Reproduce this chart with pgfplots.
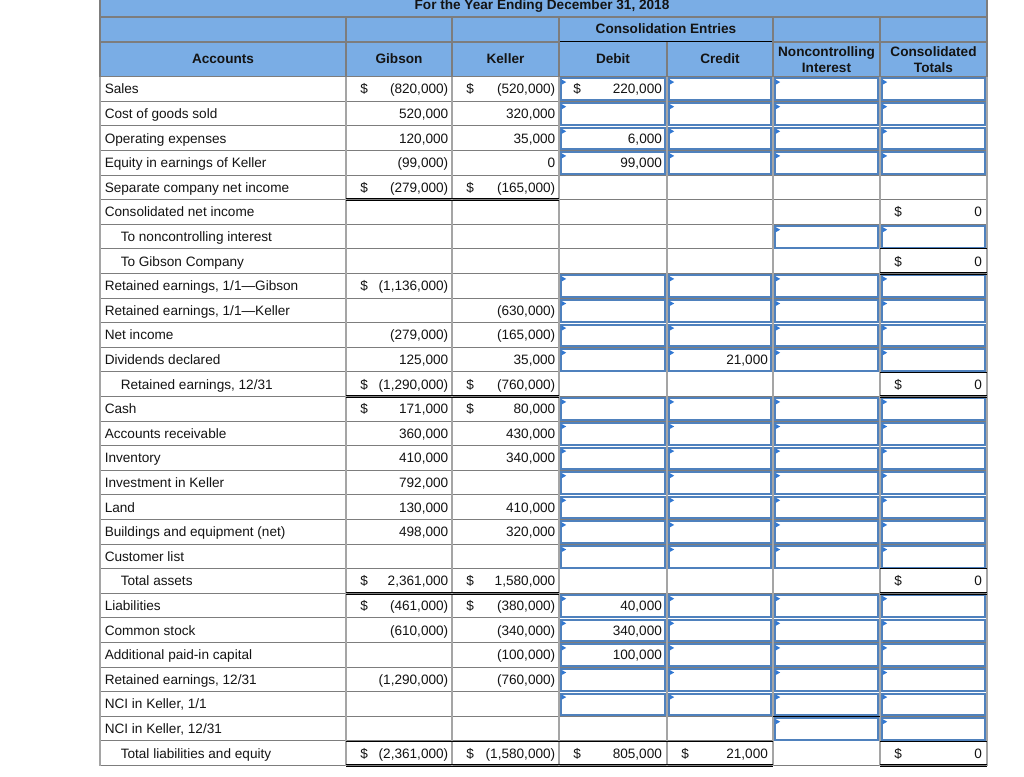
\documentclass[border=0pt]{standalone}
\usepackage{pgfplots}
\pgfplotsset{compat=1.18}
\usepackage{fontspec}
\setmainfont{Liberation Sans}
\definecolor{hdr}{RGB}{122,173,229}
\definecolor{inb}{RGB}{79,129,189}
\definecolor{tri}{RGB}{50,120,210}
\definecolor{gh}{RGB}{125,125,125}
\definecolor{gv}{RGB}{165,165,165}
\definecolor{txt}{RGB}{20,20,20}
\tikzset{tx/.style={font=\fontsize{10.2}{12}\selectfont, text=txt, inner sep=0pt},
  bx/.style={font=\bfseries\fontsize{10.2}{12}\selectfont, text=txt, inner sep=0pt}}
% row geometry (pixel units)
\newcommand\RT[1]{\pgfmathsetmacro\rt{76.7+24.6*(#1-1)}\pgfmathsetmacro\rb{\rt+24.6}\pgfmathsetmacro\bl{\rt+17.2}}
\newcommand\Lbl[3]{\RT{#1}\edef\tmp{\noexpand\node[tx,anchor=base west] at (axis cs:#2,\bl) {\unexpanded{#3}};}\tmp}
\newcommand\V[3]{\RT{#1}\pgfmathsetmacro\xr{#2-3.5}\edef\tmp{\noexpand\node[tx,anchor=base east] at (axis cs:\xr,\bl) {\unexpanded{#3}};}\tmp}
\newcommand\W[3]{\RT{#1}\pgfmathsetmacro\xr{#2-4.8}\edef\tmp{\noexpand\node[tx,anchor=base east] at (axis cs:\xr,\bl) {\unexpanded{#3}};}\tmp}
\newcommand\D[2]{\RT{#1}\pgfmathsetmacro\xl{#2+14}\edef\tmp{\noexpand\node[tx,anchor=base west] at (axis cs:\xl,\bl) {\noexpand\$};}\tmp}
\newcommand\Hl[1]{\RT{#1}\edef\tmp{\noexpand\draw[gh,line width=0.75pt] (axis cs:100,\rt) -- (axis cs:987,\rt);}\tmp}
\newcommand\Inp[3]{\RT{#1}%
  \pgfmathsetmacro\xa{#2+1.6}\pgfmathsetmacro\xb{#3-2.2}%
  \pgfmathsetmacro\ya{\rt+1.8}\pgfmathsetmacro\yb{\rb-1.2}%
  \pgfmathsetmacro\tb{\rt+2.8}\pgfmathsetmacro\tc{\rt+8}\pgfmathsetmacro\tm{\rt+5.4}%
  \pgfmathsetmacro\xs{#2+2.6}\pgfmathsetmacro\xt{#2+7.2}%
  \edef\tmp{\noexpand\draw[draw=inb,line width=1.5pt] (axis cs:\xa,\ya) rectangle (axis cs:\xb,\yb);
  \noexpand\fill[tri] (axis cs:\xs,\tb) -- (axis cs:\xs,\tc) -- (axis cs:\xt,\tm) -- cycle;}\tmp}
\newcommand\Inps[1]{\Inp{#1}{559}{667}\Inp{#1}{667}{773}\Inp{#1}{773}{880}\Inp{#1}{880}{987}}
\newcommand\Dbl[3]{\RT{#1}\pgfmathsetmacro\ya{\rb-1.4}\pgfmathsetmacro\yb{\rb+1.2}%
  \edef\tmp{\noexpand\draw[black,line width=0.6pt] (axis cs:#2,\ya) -- (axis cs:#3,\ya) (axis cs:#2,\yb) -- (axis cs:#3,\yb);}\tmp}
\newcommand\Topl[3]{\RT{#1}\edef\tmp{\noexpand\draw[black,line width=0.6pt] (axis cs:#2,\rt) -- (axis cs:#3,\rt);}\tmp}
\begin{document}
\begin{tikzpicture}
\begin{axis}[scale only axis, width=768pt, height=582.75pt,
  xmin=0, xmax=1024, ymin=0, ymax=777, y dir=reverse, hide axis, clip=false]
\addplot[draw=none, mark=none] coordinates {(0,0) (1024,777)};
\fill[white] (axis cs:0,0) rectangle (axis cs:1024,777);
\coordinate (TL) at (axis cs:0,0);
\coordinate (BR) at (axis cs:1024,777);
% header
\fill[hdr] (axis cs:100,0) rectangle (axis cs:987,76.7);
\draw[gh,line width=0.9pt] (axis cs:100,17) -- (axis cs:987,17);
\draw[gh,line width=0.9pt] (axis cs:100,42) -- (axis cs:559,42);
\draw[gh,line width=0.9pt] (axis cs:773,42) -- (axis cs:987,42);
\draw[black,line width=0.75pt] (axis cs:559,42) -- (axis cs:773,42);
\draw[gh,line width=0.9pt] (axis cs:100,0) -- (axis cs:100,76.7);
\draw[gh,line width=0.9pt] (axis cs:987,0) -- (axis cs:987,76.7);
\draw[gh,line width=0.9pt] (axis cs:346,17) -- (axis cs:346,76.7);
\draw[gh,line width=0.9pt] (axis cs:452,17) -- (axis cs:452,76.7);
\draw[gh,line width=0.9pt] (axis cs:559,17) -- (axis cs:559,76.7);
\draw[gh,line width=0.9pt] (axis cs:773,17) -- (axis cs:773,76.7);
\draw[gh,line width=0.9pt] (axis cs:880,17) -- (axis cs:880,76.7);
\draw[gh,line width=0.9pt] (axis cs:667,42) -- (axis cs:667,76.7);
\node[bx,anchor=base] at (axis cs:542,9.6) {For the Year Ending December 31, 2018};
\node[bx,anchor=base] at (axis cs:666,34) {Consolidation Entries};
\node[bx,anchor=base] at (axis cs:223,64) {Accounts};
\node[bx,anchor=base] at (axis cs:399,64) {Gibson};
\node[bx,anchor=base] at (axis cs:505.5,64) {Keller};
\node[bx,anchor=base] at (axis cs:613,64) {Debit};
\node[bx,anchor=base] at (axis cs:720,64) {Credit};
\node[bx,anchor=base] at (axis cs:826.5,56.5) {Noncontrolling};
\node[bx,anchor=base] at (axis cs:826.5,72.5) {Interest};
\node[bx,anchor=base] at (axis cs:933.5,56.5) {Consolidated};
\node[bx,anchor=base] at (axis cs:933.5,72.5) {Totals};
% grid
\pgfplotsinvokeforeach{1,...,29}{\Hl{#1}}
\draw[gv,line width=1.1pt] (axis cs:100,76.7) -- (axis cs:100,765.5);
\draw[gv,line width=1.1pt] (axis cs:346,76.7) -- (axis cs:346,765.5);
\draw[gv,line width=1.1pt] (axis cs:452,76.7) -- (axis cs:452,765.5);
\draw[gv,line width=1.1pt] (axis cs:559,76.7) -- (axis cs:559,765.5);
\draw[gv,line width=1.1pt] (axis cs:667,76.7) -- (axis cs:667,765.5);
\draw[gv,line width=1.1pt] (axis cs:773,76.7) -- (axis cs:773,765.5);
\draw[gv,line width=1.1pt] (axis cs:880,76.7) -- (axis cs:880,765.5);
\draw[gv,line width=1.1pt] (axis cs:987,76.7) -- (axis cs:987,765.5);
% input cells
\Inps{1}\Inps{2}\Inps{3}\Inps{4}
\Inp{7}{773}{880}\Inp{7}{880}{987}
\Inps{9}\Inps{10}\Inps{11}\Inps{12}
\Inps{14}\Inps{15}\Inps{16}\Inps{17}\Inps{18}\Inps{19}\Inps{20}
\Inps{22}\Inps{23}\Inps{24}\Inps{25}\Inps{26}
\Inp{27}{773}{880}\Inp{27}{880}{987}
% rule lines
\Dbl{5}{346}{559}
\Topl{8}{880}{987}\Dbl{8}{880}{987}
\Topl{13}{880}{987}\Dbl{13}{346}{559}\Dbl{13}{880}{987}
\Topl{21}{880}{987}\Dbl{21}{346}{559}\Dbl{21}{880}{987}
\Topl{27}{773}{880}
\Topl{28}{346}{773}\Topl{28}{880}{987}\Dbl{28}{346}{773}\Dbl{28}{880}{987}
% account labels
\Lbl{1}{104.5}{Sales}
\Lbl{2}{104.5}{Cost of goods sold}
\Lbl{3}{104.5}{Operating expenses}
\Lbl{4}{104.5}{Equity in earnings of Keller}
\Lbl{5}{104.5}{Separate company net income}
\Lbl{6}{104.5}{Consolidated net income}
\Lbl{7}{120.5}{To noncontrolling interest}
\Lbl{8}{120.5}{To Gibson Company}
\Lbl{9}{104.5}{Retained earnings, 1/1—Gibson}
\Lbl{10}{104.5}{Retained earnings, 1/1—Keller}
\Lbl{11}{104.5}{Net income}
\Lbl{12}{104.5}{Dividends declared}
\Lbl{13}{120.5}{Retained earnings, 12/31}
\Lbl{14}{104.5}{Cash}
\Lbl{15}{104.5}{Accounts receivable}
\Lbl{16}{104.5}{Inventory}
\Lbl{17}{104.5}{Investment in Keller}
\Lbl{18}{104.5}{Land}
\Lbl{19}{104.5}{Buildings and equipment (net)}
\Lbl{20}{104.5}{Customer list}
\Lbl{21}{120.5}{Total assets}
\Lbl{22}{104.5}{Liabilities}
\Lbl{23}{104.5}{Common stock}
\Lbl{24}{104.5}{Additional paid-in capital}
\Lbl{25}{104.5}{Retained earnings, 12/31}
\Lbl{26}{104.5}{NCI in Keller, 1/1}
\Lbl{27}{104.5}{NCI in Keller, 12/31}
\Lbl{28}{120.5}{Total liabilities and equity}
% values: Gibson (346-452), Keller (452-559), Debit (559-667), Credit (667-773), Totals (880-987)
\D{1}{346}\V{1}{452}{(820,000)}\D{1}{452}\V{1}{559}{(520,000)}\D{1}{559}\W{1}{667}{220,000}
\V{2}{452}{520,000}\V{2}{559}{320,000}
\V{3}{452}{120,000}\V{3}{559}{35,000}\W{3}{667}{6,000}
\V{4}{452}{(99,000)}\V{4}{559}{0}\W{4}{667}{99,000}
\D{5}{346}\V{5}{452}{(279,000)}\D{5}{452}\V{5}{559}{(165,000)}
\D{6}{880}\W{6}{987}{0}
\D{8}{880}\W{8}{987}{0}
\D{9}{346}\V{9}{452}{(1,136,000)}
\V{10}{559}{(630,000)}
\V{11}{452}{(279,000)}\V{11}{559}{(165,000)}
\V{12}{452}{125,000}\V{12}{559}{35,000}\W{12}{773}{21,000}
\D{13}{346}\V{13}{452}{(1,290,000)}\D{13}{452}\V{13}{559}{(760,000)}\D{13}{880}\W{13}{987}{0}
\D{14}{346}\V{14}{452}{171,000}\D{14}{452}\V{14}{559}{80,000}
\V{15}{452}{360,000}\V{15}{559}{430,000}
\V{16}{452}{410,000}\V{16}{559}{340,000}
\V{17}{452}{792,000}
\V{18}{452}{130,000}\V{18}{559}{410,000}
\V{19}{452}{498,000}\V{19}{559}{320,000}
\D{21}{346}\V{21}{452}{2,361,000}\D{21}{452}\V{21}{559}{1,580,000}\D{21}{880}\W{21}{987}{0}
\D{22}{346}\V{22}{452}{(461,000)}\D{22}{452}\V{22}{559}{(380,000)}\W{22}{667}{40,000}
\V{23}{452}{(610,000)}\V{23}{559}{(340,000)}\W{23}{667}{340,000}
\V{24}{559}{(100,000)}\W{24}{667}{100,000}
\V{25}{452}{(1,290,000)}\V{25}{559}{(760,000)}
\D{28}{346}\V{28}{452}{(2,361,000)}\D{28}{452}\V{28}{559}{(1,580,000)}\D{28}{559}\W{28}{667}{805,000}\D{28}{667}\W{28}{773}{21,000}\D{28}{880}\W{28}{987}{0}
\end{axis}
\pgfresetboundingbox
\path[use as bounding box] (TL) rectangle (BR);
\end{tikzpicture}
\end{document}
